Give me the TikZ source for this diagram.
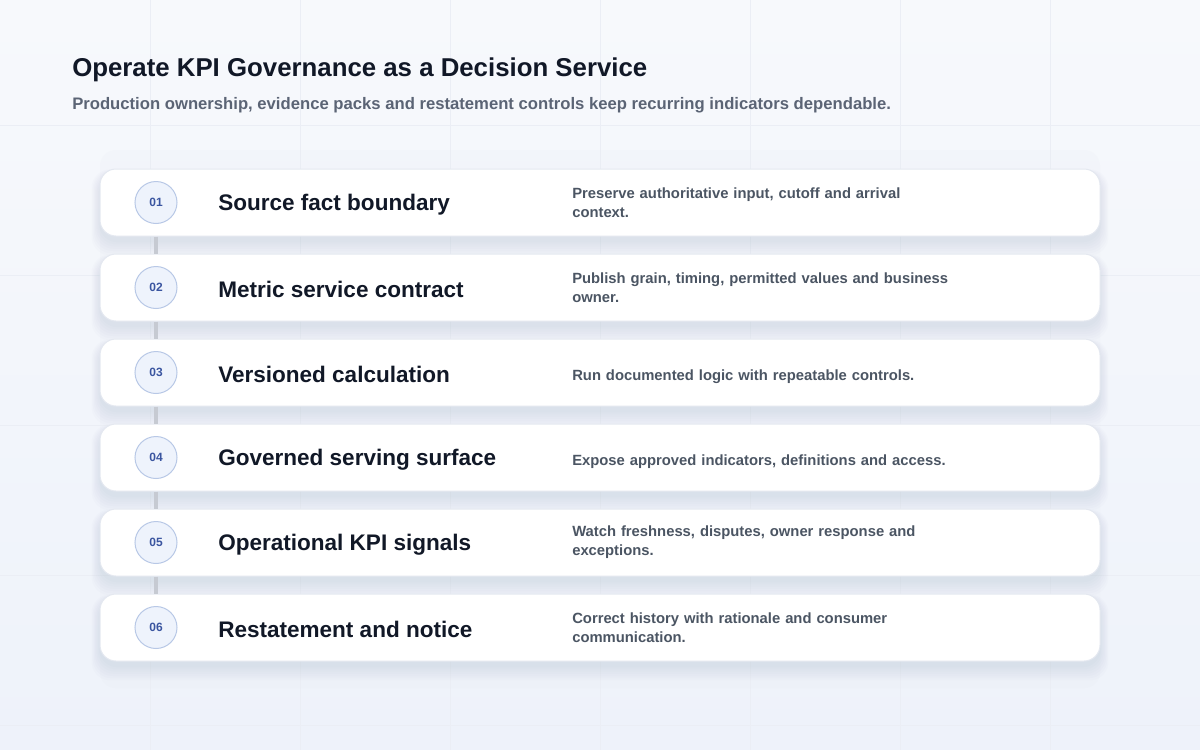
\documentclass[tikz,border=0pt]{standalone}
\usepackage{fontspec}
\setmainfont{Liberation Sans}
\definecolor{bgtop}{HTML}{F7F9FC}
\definecolor{bgbot}{HTML}{EEF2FA}
\definecolor{gridc}{HTML}{EBEEF5}
\definecolor{panelc}{HTML}{E6EAF2}
\definecolor{titlec}{HTML}{111827}
\definecolor{subc}{HTML}{5B6475}
\definecolor{descc}{HTML}{4B5563}
\definecolor{numfill}{HTML}{EEF3FC}
\definecolor{numdraw}{HTML}{B8C8E6}
\definecolor{numtext}{HTML}{3A55A0}
\definecolor{connc}{HTML}{C6CAD2}
\definecolor{shadowc}{HTML}{5A6A90}
\definecolor{cardline}{HTML}{E4E8F0}
\tikzset{
  card/.style={draw=cardline, line width=0.75pt, fill=white, rounded corners=12pt,
    minimum width=750pt, minimum height=50.25pt, inner sep=0pt},
  numc/.style={circle, fill=numfill, draw=numdraw, line width=0.75pt,
    minimum size=31.5pt, inner sep=0pt, text=numtext, font=\bfseries\fontsize{9}{10}\selectfont},
  steptitle/.style={anchor=west, inner sep=0pt, text=titlec, font=\bfseries\fontsize{16.9}{20}\selectfont},
  stepdesc/.style={anchor=west, inner sep=0pt, text=descc, align=left, text width=295pt,
    font=\bfseries\fontsize{11.1}{14.3}\selectfont},
  conn/.style={draw=connc, line width=2.6pt},
}
\begin{document}
\begin{tikzpicture}[x=0.75pt,y=-0.75pt]
\useasboundingbox (0,0) rectangle (1200,750);
\shade[top color=bgtop, bottom color=bgbot] (0,0) rectangle (1200,750);
\foreach \gx in {150,300,...,1050} \draw[gridc, line width=0.5pt] (\gx,0) -- (\gx,750);
\foreach \gy in {125,275,425,575,725} \draw[gridc, line width=0.5pt] (0,\gy) -- (1200,\gy);
% faint panel behind cards
\fill[panelc, opacity=0.2, rounded corners=12pt] (100,150) rectangle (1100,688);
% title
\node[anchor=base west, inner sep=0pt, text=titlec, font=\bfseries\fontsize{19.35}{22}\selectfont] (title) at (72,76) {Operate KPI Governance as a Decision Service};
\node[anchor=base west, inner sep=0pt, text=subc, font=\bfseries\fontsize{12.5}{15}\selectfont] (subtitle) at (72,109) {Production ownership, evidence packs and restatement controls keep recurring indicators dependable.};
% shadows
\foreach \i in {0,...,5} {
  \foreach \s in {1,...,7} {
    \fill[shadowc, opacity=0.017, rounded corners=14pt]
      ({100-\s*1.2},{169+85*\i+6-\s*0.8}) rectangle ({1100+\s*1.2},{236+85*\i+4+\s*2.2});
  }
}
% cards
\foreach \i/\num/\ttl/\dy/\dsc in {
  1/01/Source fact boundary/1.5/{Preserve authoritative input, cutoff and arrival\\context.},
  2/02/Metric service contract/1.5/{Publish grain, timing, permitted values and business\\owner.},
  3/03/Versioned calculation/5.5/{Run documented logic with repeatable controls.},
  4/04/Governed serving surface/5.5/{Expose approved indicators, definitions and access.},
  5/05/Operational KPI signals/1.5/{Watch freshness, disputes, owner response and\\exceptions.},
  6/06/Restatement and notice/1.5/{Correct history with rationale and consumer\\communication.}} {
  \node[card] (card\i) at (600,{202.5+85*(\i-1)}) {};
  \node[numc] (num\i) at (156,{202.5+85*(\i-1)}) {\num};
  \node[steptitle] (ttl\i) at (218,{204.5+85*(\i-1)}) {\ttl};
  \node[stepdesc] (dsc\i) at (572,{201+\dy+85*(\i-1)}) {\dsc};
}
% connectors between consecutive cards
\foreach \i/\j in {1/2,2/3,3/4,4/5,5/6}
  \draw[conn] (card\i.south -| num\i) -- (card\j.north -| num\j);
\end{tikzpicture}
\end{document}
